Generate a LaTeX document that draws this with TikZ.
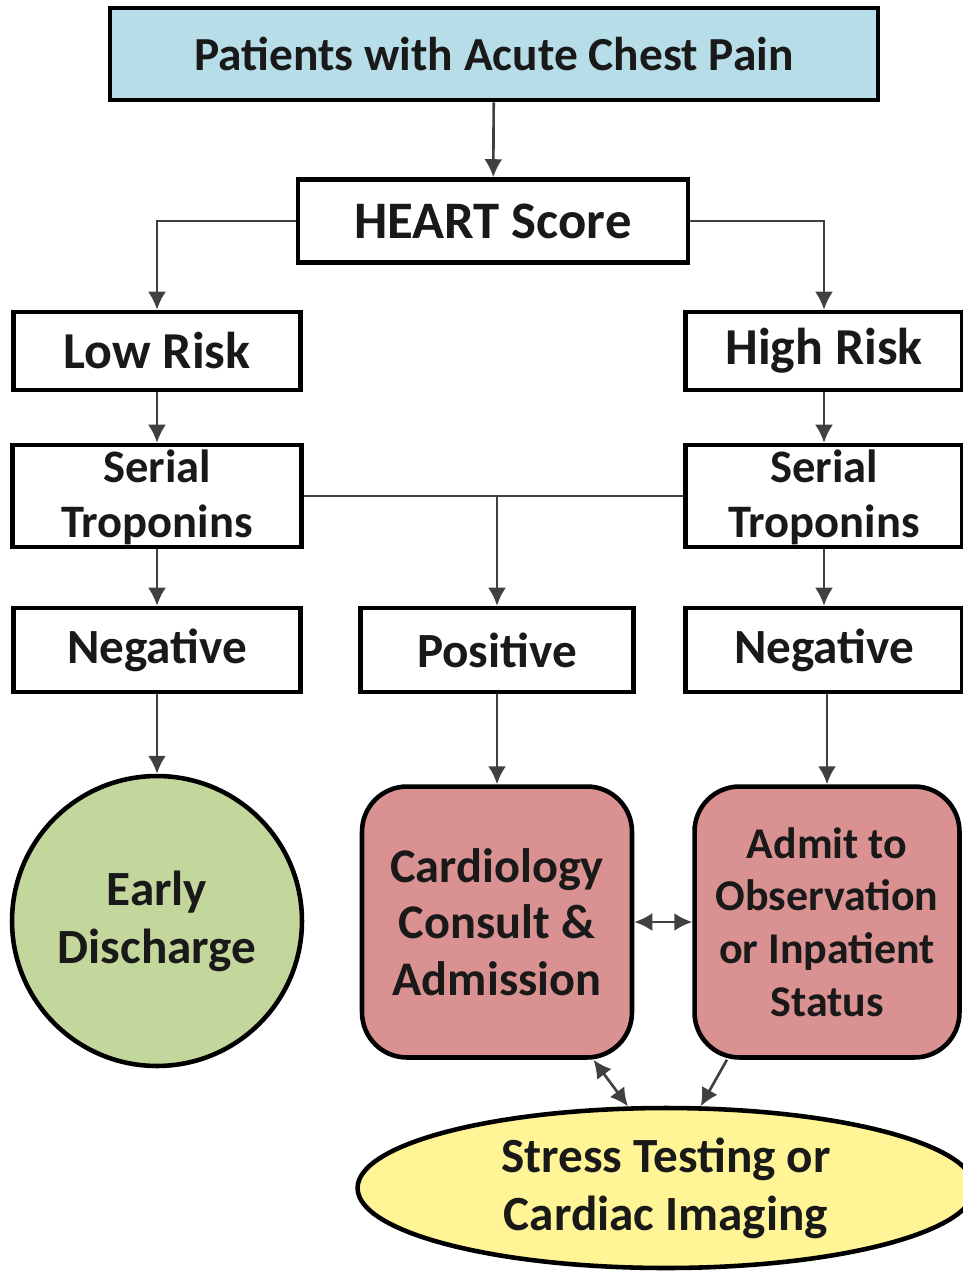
\documentclass[tikz,border=0pt]{standalone}
\usepackage{fontspec}
\setmainfont{Carlito}
\usetikzlibrary{arrows.meta,shapes.geometric}
\begin{document}
\begin{tikzpicture}[x=0.02cm, y=-0.02cm, >={Latex[length=0.36cm,width=0.36cm]},
  every node/.style={font=\fontsize{28}{33}\selectfont\bfseries, text=black!90},
  box/.style={draw, line width=2.6pt, minimum height=1.6cm, inner sep=0pt, align=center},
  rbox/.style={box, fill=cardred, rounded corners=0.9cm, minimum width=5.4cm, minimum height=5.42cm},
  flow/.style={->, line width=1.5pt, draw=black!75}]
\definecolor{cardred}{RGB}{217,146,145}
\useasboundingbox (0,0) rectangle (963,1271);
\node[box, fill={rgb,255:red,183;green,222;blue,232}, minimum width=15.36cm, minimum height=1.84cm] (pts) at (494,54) {\fontsize{27}{30}\selectfont Patients with Acute Chest Pain};
\node[box, minimum width=7.8cm, minimum height=1.66cm] (heart) at (493,221) {\fontsize{30}{34}\selectfont HEART Score};
\node[box, minimum width=5.74cm, minimum height=1.56cm] (low) at (157,351) {\fontsize{29.5}{34}\selectfont Low Risk};
\node[box, minimum width=5.54cm, minimum height=1.56cm] (high) at (824,351) {\fontsize{29.5}{34}\selectfont High Risk};
\node[box, minimum width=5.78cm, minimum height=2.04cm] (serl) at (157,496) {\fontsize{26.5}{31}\selectfont\raisebox{-8pt}[0pt][0pt]{\begin{tabular}{@{}c@{}}Serial\\Troponins\end{tabular}}};
\node[box, minimum width=5.54cm, minimum height=2.04cm] (serr) at (824,496) {\fontsize{26.5}{31}\selectfont\raisebox{-8pt}[0pt][0pt]{\begin{tabular}{@{}c@{}}Serial\\Troponins\end{tabular}}};
\node[box, minimum width=5.74cm, minimum height=1.68cm] (negl) at (157,650) {Negative};
\node[box, minimum width=5.46cm, minimum height=1.68cm] (pos) at (497,650) {Positive};
\node[box, minimum width=5.54cm, minimum height=1.68cm] (negr) at (824,650) {Negative};
\node[box, circle, fill={rgb,255:red,195;green,214;blue,155}, minimum size=5.8cm] (early) at (157,921) {Early\\Discharge};
\node[rbox, font=\fontsize{27.5}{32}\selectfont\bfseries] (card) at (497,922) {Cardiology\\Consult \&\\Admission};
\node[rbox, minimum width=5.3cm, font=\fontsize{25}{30}\selectfont\bfseries] (admit) at (827,922) {Admit to\\Observation\\or Inpatient\\Status};
\node[box, ellipse, fill={rgb,255:red,255;green,245;blue,150}, minimum width=12.34cm, minimum height=3.2cm] (stress) at (666,1188) {Stress Testing or\\Cardiac Imaging};
\draw[flow] (pts) -- (heart);
\draw[flow] (heart.west) -| (low.north);
\draw[flow] (heart.east) -| (high.north);
\draw[flow] (low) -- (serl);
\draw[flow] (high) -- (serr);
\draw[line width=1.5pt, draw=black!75] (serl.east) -- (serr.west);
\draw[flow] (serl.east -| pos.north) -- (pos);
\draw[flow] (serl) -- (negl);
\draw[flow] (serr) -- (negr);
\draw[flow] (negl) -- (early);
\draw[flow] (pos) -- (card);
\draw[flow] (negr.south -| admit.north) -- (admit);
\draw[flow, <->] (card) -- (admit);
\draw[flow, <->] (card.-55) -- (stress.115);
\draw[flow] (admit.-126) -- (stress.67);
\end{tikzpicture}
\end{document}
